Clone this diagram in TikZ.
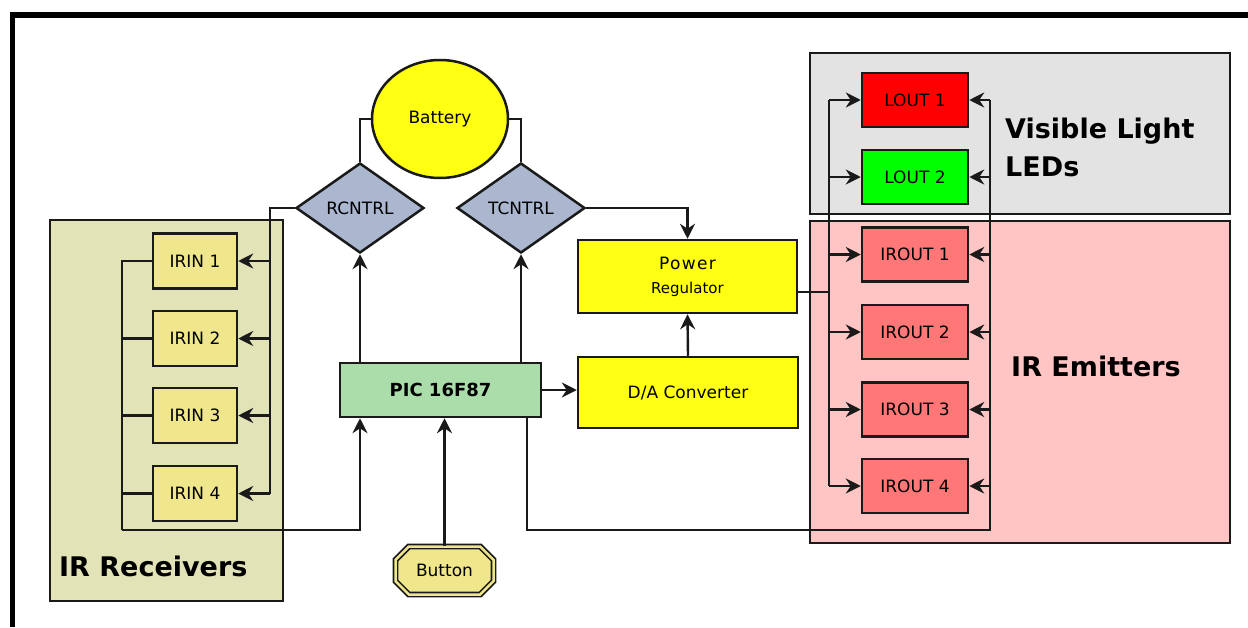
\documentclass[tikz,border=0pt]{standalone}
\usepackage{fontspec}
\setmainfont{DejaVu Sans}
\usetikzlibrary{shapes.geometric,shapes.misc,arrows.meta,calc}
\definecolor{yel}{RGB}{255,255,20}
\definecolor{dia}{RGB}{170,183,207}
\definecolor{khk}{RGB}{240,230,140}
\definecolor{picg}{RGB}{170,221,170}
\definecolor{irout}{RGB}{255,119,119}
\definecolor{grpR}{RGB}{227,227,184}
\definecolor{grpV}{RGB}{227,227,227}
\definecolor{grpE}{RGB}{255,196,196}
\definecolor{ln}{RGB}{26,26,26}
\tikzset{
 blk/.style={draw=ln, line width=2.5pt, inner sep=0pt, font=\fontsize{17}{20}\selectfont},
 irin/.style={blk, fill=khk, minimum width=84pt, minimum height=55pt},
 led/.style={blk, minimum width=106pt, minimum height=54pt},
 ctl/.style={blk, shape=diamond, fill=dia, minimum width=128pt, minimum height=90pt},
 grp/.style={draw=ln, line width=2.5pt},
 grplbl/.style={font=\fontsize{27}{38}\selectfont\bfseries, anchor=west, inner sep=0pt},
 wire/.style={draw=ln, line width=2.4pt},
 arr/.style={wire, -{Stealth[length=15pt,width=15pt,inset=5pt]}},
}
\begin{document}
\begin{tikzpicture}[x=1pt,y=-1pt]
\useasboundingbox (0,0) rectangle (1248,627);
\fill[white] (0,0) rectangle (1248,627);
% frame
\draw[line width=5.5pt] (9.75,15) -- (1248,15);
\draw[line width=5.5pt] (12.5,12.25) -- (12.5,627);
% groups
\draw[grp, fill=grpR] (50,220) rectangle (283,601);
\draw[grp, fill=grpV] (810,53) rectangle (1230,214);
\draw[grp, fill=grpE] (810,221) rectangle (1230,543);
\node[grplbl] (lR) at (59,566) {IR Receivers};
\node[grplbl, align=left] (lV) at (1005,147) {Visible Light\\LEDs};
\node[grplbl] (lE) at (1011,366) {IR Emitters};
% nodes
\node[blk, shape=ellipse, fill=yel, minimum width=136pt, minimum height=118pt] (bat) at (440,119) {Battery};
\node[ctl] (rc) at (360,208) {RCNTRL};
\node[ctl] (tc) at (521,208) {TCNTRL};
\node[irin] (in1) at (195,261) {IRIN 1};
\node[irin] (in2) at (195,338.5) {IRIN 2};
\node[irin] (in3) at (195,415.5) {IRIN 3};
\node[irin] (in4) at (195,493.5) {IRIN 4};
\node[blk, fill=picg, minimum width=201pt, minimum height=54pt, font=\fontsize{18}{21}\selectfont\bfseries] (pic) at (440.5,390) {PIC 16F87};
\node[blk, fill=yel, minimum width=220pt, minimum height=71pt] (da) at (688,392.5) {D/A Converter};
\node[blk, fill=yel, minimum width=219pt, minimum height=73pt, align=center, font=\fontsize{17}{24}\selectfont] (pr) at (687.5,276.5) {\addfontfeature{LetterSpace=8}Power\\{\fontsize{15}{24}\selectfont Regulator}};
\node[blk, shape=chamfered rectangle, chamfered rectangle xsep=7pt, chamfered rectangle ysep=7pt, fill=khk, double=khk, double distance=2.5pt, line width=1.7pt, minimum width=98pt, minimum height=48pt] (btn) at (444.5,570.5) {Button};
\node[led, fill=red] (l1) at (915,100) {LOUT 1};
\node[led, fill=green] (l2) at (915,177) {LOUT 2};
\node[led, fill=irout] (e1) at (915,254.5) {IROUT 1};
\node[led, fill=irout] (e2) at (915,332) {IROUT 2};
\node[led, fill=irout] (e3) at (915,409.5) {IROUT 3};
\node[led, fill=irout] (e4) at (915,486) {IROUT 4};
% battery wires
\draw[wire] (bat.west) -| (rc.north);
\draw[wire] (bat.east) -| (tc.north);
% RCNTRL to receivers
\coordinate (rbus) at (270,493.5);
\draw[wire] (rc.west) -| (rbus);
\foreach \n in {in1,in2,in3,in4} \draw[arr] (rbus |- \n) -- (\n.east);
% receivers to PIC
\coordinate (lbus) at (122,530);
\draw[wire] (in1.west) -| (lbus);
\foreach \n in {in2,in3,in4} \draw[wire] (\n.west) -- (lbus |- \n);
\draw[arr] (lbus) -| (rc |- pic.south);
% PIC to controls
\draw[arr] (rc |- pic.north) -- (rc.south);
\draw[arr] (tc |- pic.north) -- (tc.south);
\draw[arr] (btn.north) -- (btn |- pic.south);
\draw[arr] (pic.east) -- (da.west |- pic.east);
\draw[arr] (da.north) -- (pr.south);
\draw[arr] (tc.east) -| (pr.north);
% emitter buses
\coordinate (eb) at (829,486);
\coordinate (prw) at ([yshift=-15.5pt]pr.east);
\draw[wire] (prw) -- (eb |- prw);
\draw[wire] (eb |- l1) -- (eb);
\foreach \n in {l1,l2,e1,e2,e3,e4} \draw[arr] (eb |- \n) -- (\n.west);
\coordinate (rb) at (990,530);
\draw[wire] ([xshift=86.5pt]pic.south) |- (rb) -- (rb |- l1);
\foreach \n in {l1,l2,e1,e2,e3,e4} \draw[arr] (rb |- \n) -- (\n.east);
\end{tikzpicture}
\end{document}
